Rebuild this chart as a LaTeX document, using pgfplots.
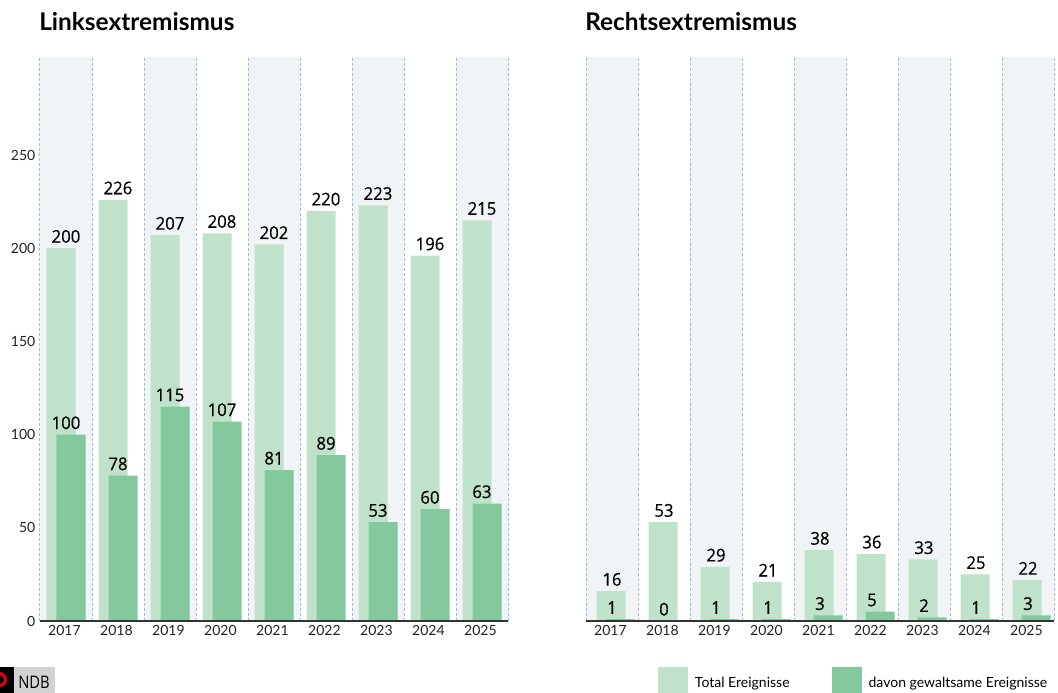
\documentclass[border=0pt]{standalone}
\usepackage{fontspec}
\setmainfont{Lato}
\newfontfamily\labelfont[FakeStretch=0.95, FakeBold=0.4]{Open Sans}
\newfontfamily\ndbfont[FakeStretch=0.85]{Open Sans}
\usepackage{pgfplots}
\pgfplotsset{compat=1.18}
\definecolor{bandbg}{HTML}{F0F4F7}
\definecolor{dashc}{HTML}{A3BDCF}
\definecolor{totalc}{HTML}{C0E2CB}
\definecolor{violc}{HTML}{84C99D}
\definecolor{axisc}{HTML}{333333}
\definecolor{tickc}{HTML}{222222}
\definecolor{ndbgray}{HTML}{D3D3D3}
\definecolor{ndbred}{HTML}{E3000F}
\pgfplotsset{
  panel/.style={
    scale only axis, width=351pt, height=423pt,
    xmin=-0.5, xmax=8.5, ymin=0, ymax=302.6,
    clip=false, axis on top,
    axis x line*=bottom, axis y line*=left,
    y axis line style={draw=none},
    x axis line style={draw=axisc, line width=1.1pt},
    major tick style={draw=none},
    xtick={0,...,8},
    xticklabels={2017,2018,2019,2020,2021,2022,2023,2024,2025},
    xticklabel style={xshift=-1.2pt},
    ytick={0,50,...,250},
    tick label style={font=\fontsize{10.5}{12}\selectfont, text=tickc},
    /pgf/number format/assume math mode=true,
    every node near coord/.append style={font=\labelfont\fontsize{13.2}{15}\selectfont, text=black, inner xsep=1pt, inner ysep=3.8pt},
  },
  band/.style={ybar, bar width=39pt, bar shift=0pt, fill=bandbg, draw=none, forget plot},
  sep/.style={ycomb, draw=dashc, line width=0.75pt, dash pattern=on 2.25pt off 1.5pt, mark=none, forget plot},
}
\begin{document}
\begin{tikzpicture}
\useasboundingbox (0,0) rectangle (793.5pt,519.75pt);
% ---------------- left panel
\begin{axis}[panel, at={(30pt,54pt)}, anchor=south west]
\addplot[band] coordinates {(0,302.6)(2,302.6)(4,302.6)(6,302.6)(8,302.6)};
\addplot[sep] coordinates {(-0.5,302.6)(0.5,302.6)(1.5,302.6)(2.5,302.6)(3.5,302.6)(4.5,302.6)(5.5,302.6)(6.5,302.6)(7.5,302.6)(8.5,302.6)};
\addplot[ybar, bar width=21.75pt, bar shift=-3.75pt, fill=totalc, draw=none, nodes near coords]
  coordinates {(0,200)(1,226)(2,207)(3,208)(4,202)(5,220)(6,223)(7,196)(8,215)};
\addplot[ybar, bar width=21.75pt, bar shift=3.75pt, fill=violc, draw=none, nodes near coords]
  coordinates {(0,100)(1,78)(2,115)(3,107)(4,81)(5,89)(6,53)(7,60)(8,63)};
\end{axis}
% ---------------- right panel
\begin{axis}[panel, at={(439.5pt,54pt)}, anchor=south west, ytick=\empty,
  legend columns=2,
  legend style={at={(0.1538,-0.0816)}, anchor=north west, draw=none, fill=none,
    inner sep=0pt, outer sep=0pt, font=\fontsize{10.5}{12}\selectfont,
    nodes={inner sep=0pt},
    /tikz/every odd column/.append style={column sep=5.25pt},
    /tikz/every even column/.append style={column sep=31.5pt}},
  legend cell align=left]
\addplot[band] coordinates {(0,302.6)(2,302.6)(4,302.6)(6,302.6)(8,302.6)};
\addplot[sep] coordinates {(-0.5,302.6)(0.5,302.6)(1.5,302.6)(2.5,302.6)(3.5,302.6)(4.5,302.6)(5.5,302.6)(6.5,302.6)(7.5,302.6)(8.5,302.6)};
\addplot[ybar, bar width=21.75pt, bar shift=-0.75pt, fill=totalc, draw=none, nodes near coords,
  legend image code/.code={\fill[totalc] (0pt,-7.5pt) rectangle (22.5pt,12pt);}]
  coordinates {(0,16)(1,53)(2,29)(3,21)(4,38)(5,36)(6,33)(7,25)(8,22)};
\addlegendentry{Total Ereignisse}
\addplot[ybar, bar width=21.75pt, bar shift=6pt, fill=violc, draw=none, nodes near coords,
  legend image code/.code={\fill[violc] (0pt,-7.5pt) rectangle (22.5pt,12pt);}]
  coordinates {(0,1)(1,0)(2,1)(3,1)(4,3)(5,5)(6,2)(7,1)(8,3)};
\addlegendentry{davon gewaltsame Ereignisse}
\end{axis}
% ---------------- titles
\node[anchor=base west, inner sep=0pt] at (29.25pt,496.5pt) {\fontsize{18.3}{21}\selectfont\bfseries Linksextremismus};
\node[anchor=base west, inner sep=0pt] at (438.75pt,496.5pt) {\fontsize{18.3}{21}\selectfont\bfseries Rechtsextremismus};
% ---------------- source logo
\fill[black] (0pt,-5pt) rectangle (10.5pt,19.5pt);
\fill[ndbgray] (10.5pt,-5pt) rectangle (41.25pt,19.5pt);
\draw[ndbred, line width=2.25pt] (-0.5pt,10pt) circle (4.6pt);
\node[anchor=base west, inner sep=0pt] at (13.5pt,3.5pt) {\ndbfont\fontsize{13}{15}\selectfont NDB};
\end{tikzpicture}
\end{document}
